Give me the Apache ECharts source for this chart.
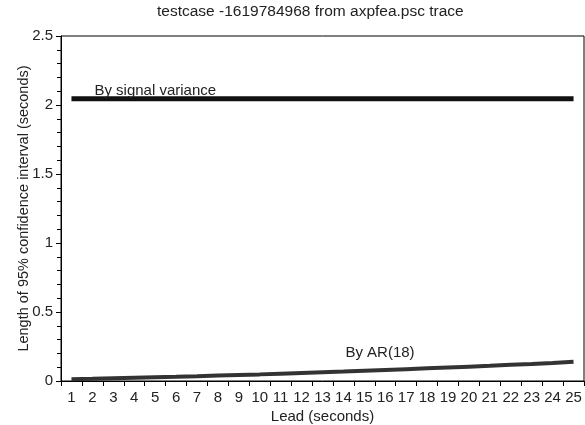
<!DOCTYPE html>
<html>
<head>
<meta charset="utf-8">
<script src="https://cdn.jsdelivr.net/npm/echarts@6/dist/echarts.min.js"></script>
<style>
html,body{margin:0;padding:0;background:#fff;}
#chart{width:585px;height:425px;}
</style>
</head>
<body>
<div id="chart"></div>
<script>
var leads = ['1','2','3','4','5','6','7','8','9','10','11','12','13','14','15','16','17','18','19','20','21','22','23','24','25'];
var signalVariance = [2.045,2.045,2.045,2.045,2.045,2.045,2.045,2.045,2.045,2.045,2.045,2.045,2.045,2.045,2.045,2.045,2.045,2.045,2.045,2.045,2.045,2.045,2.045,2.045,2.045];
var ar18 = [0.013,0.016,0.020,0.024,0.028,0.031,0.035,0.040,0.044,0.048,0.053,0.058,0.063,0.068,0.074,0.080,0.086,0.092,0.098,0.104,0.110,0.117,0.123,0.131,0.140];
var titleText = 'testcase -1619784968 from axpfea.psc trace';
var signalLabel = 'By signal variance';
var arLabel = 'By AR(18)';
var signalLabelIndex = 1;
var arLabelIndex = 13;

var FONT = '"Liberation Sans", Arial, sans-serif';
var TXT = '#222';

function withLabel(values, idx, text, dist) {
  return values.map(function (v, i) {
    if (i !== idx) return v;
    return {
      value: v,
      label: {
        show: true, formatter: text, position: 'top', align: 'left',
        distance: dist, offset: [2, 0],
        color: TXT, fontFamily: FONT, fontSize: 15
      }
    };
  });
}

var chart = echarts.init(document.getElementById('chart'), null, {renderer: 'canvas'});
chart.setOption({
  animation: false,
  backgroundColor: '#fff',
  title: {
    text: titleText, left: 157, top: 4, padding: 0,
    textStyle: {fontFamily: FONT, fontSize: 15.5, fontWeight: 'normal', color: TXT}
  },
  grid: {left: 61, right: 1, top: 36, bottom: 44, show: true, borderColor: '#000', borderWidth: 1,
         containLabel: false, outerBoundsMode: 'none'},
  xAxis: {
    type: 'category', data: leads, boundaryGap: true,
    name: 'Lead (seconds)', nameLocation: 'middle', nameGap: 28, nameMoveOverlap: false,
    nameTextStyle: {fontFamily: FONT, fontSize: 15, color: TXT},
    axisLine: {lineStyle: {color: '#000', width: 1}},
    axisTick: {show: true, interval: 0, length: 5, lineStyle: {color: '#000'}},
    axisLabel: {interval: 0, margin: 9, fontFamily: FONT, fontSize: 15, color: TXT},
    splitLine: {show: false}
  },
  yAxis: {
    type: 'value', min: 0, max: 2.5, interval: 0.5,
    name: 'Length of 95% confidence interval (seconds)', nameLocation: 'middle', nameGap: 30, nameMoveOverlap: false,
    nameTextStyle: {fontFamily: FONT, fontSize: 14.5, color: TXT},
    axisLine: {show: true, lineStyle: {color: '#000', width: 1}},
    axisTick: {show: true, length: 5, lineStyle: {color: '#000'}},
    minorTick: {show: true, splitNumber: 5, length: 4, lineStyle: {color: '#000'}},
    axisLabel: {margin: 8, fontFamily: FONT, fontSize: 15, color: TXT},
    splitLine: {show: false}
  },
  series: [
    {
      type: 'line', data: withLabel(signalVariance, signalLabelIndex, signalLabel, 0),
      symbol: 'circle', symbolSize: 0.01, showSymbol: true,
      itemStyle: {color: '#111'},
      lineStyle: {color: '#111', width: 5}, z: 3
    },
    {
      type: 'line', data: withLabel(ar18, arLabelIndex, arLabel, 11),
      symbol: 'circle', symbolSize: 0.01, showSymbol: true,
      itemStyle: {color: '#333'},
      lineStyle: {color: '#333', width: 4}, z: 3
    }
  ]
});
</script>
</body>
</html>
